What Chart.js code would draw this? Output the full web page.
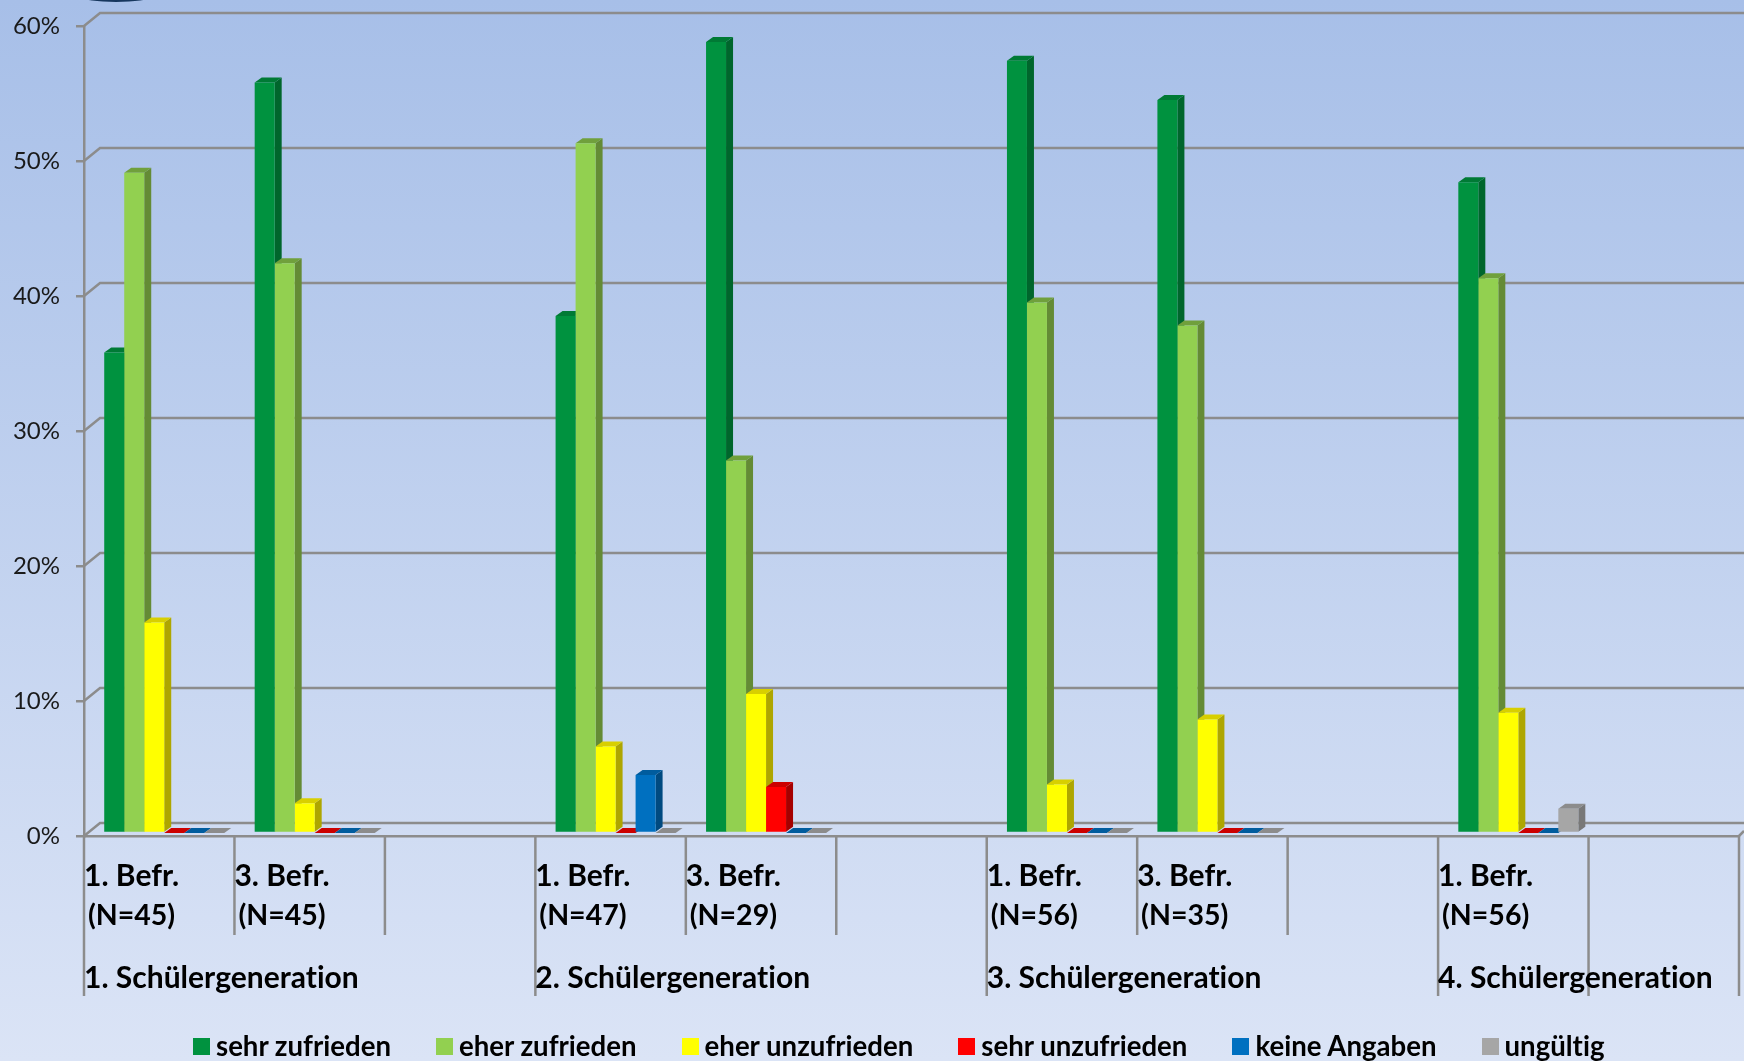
<!DOCTYPE html>
<html lang="de">
<head>
<meta charset="utf-8">
<title>Zufriedenheit</title>
<script src="https://cdn.jsdelivr.net/npm/chart.js@4"></script>
<style>
  html, body { margin: 0; padding: 0; }
  body {
    width: 1744px; height: 1061px; position: relative; overflow: hidden;
    background: linear-gradient(180deg, #a7bfe8 0%, #dbe4f6 100%);
    font-family: Lato, sans-serif;
  }
  #myChart { position: absolute; left: 0; top: 0; }
  #logo {
    position: absolute; left: 82px; top: -8px; width: 68px; height: 10px;
    background: #17375e; border-radius: 50%;
  }
  #legend {
    position: absolute; left: 193px; top: 1029px; display: flex;
    font-weight: 700; font-size: 27.6px; line-height: 34px; color: #000;
    font-variant-ligatures: none;
  }
  #legend div { display: flex; align-items: center; margin-right: 45px; white-space: nowrap; }
  #legend span { display: block; width: 17px; height: 17px; margin-right: 6px; }
</style>
</head>
<body>
<div id="logo"></div>
<canvas id="myChart" width="1744" height="1061"></canvas>
<div id="legend"></div>
<script>
const befragungen = [
  ["1. Befr.", "(N=45)"], ["3. Befr.", "(N=45)"], "",
  ["1. Befr.", "(N=47)"], ["3. Befr.", "(N=29)"], "",
  ["1. Befr.", "(N=56)"], ["3. Befr.", "(N=35)"], "",
  ["1. Befr.", "(N=56)"], ""
];
const generationen = ["1. Schülergeneration", "2. Schülergeneration", "3. Schülergeneration", "4. Schülergeneration"];
const generationStart = [0, 3, 6, 9];
const yTicks = [0, 10, 20, 30, 40, 50, 60];

const sehrZufrieden = [35.6, 55.6, null, 38.3, 58.6, null, 57.2, 54.3, null, 48.2, null];
const eherZufrieden = [48.9, 42.2, null, 51.1, 27.6, null, 39.3, 37.6, null, 41.1, null];
const eherUnzufrieden = [15.6, 2.2, null, 6.4, 10.3, null, 3.6, 8.4, null, 8.9, null];
const sehrUnzufrieden = [0, 0, null, 0, 3.4, null, 0, 0, null, 0, null];
const keineAngaben = [0, 0, null, 4.3, 0, null, 0, 0, null, 0, null];
const ungueltig = [0, 0, null, 0, 0, null, 0, 0, null, 1.8, null];

const LINE = '#8c8c8c';
const LABEL_FONT = '700 30px Lato, sans-serif';
const N_FONT = '700 28.5px Lato, sans-serif';

function serie(label, data, front, side, top) {
  return { label, data, backgroundColor: front, sideColor: side, topColor: top, borderWidth: 0 };
}

// Rückwand, Boden und die Linien unter der Achse
const wall = {
  id: 'wall',
  beforeDatasetsDraw(chart) {
    const { ctx, scales: { x, y }, chartArea: a, width } = chart;
    ctx.save();
    ctx.strokeStyle = LINE;
    ctx.lineWidth = 2.5;
    yTicks.forEach(v => {
      const py = y.getPixelForValue(v);
      ctx.beginPath();
      ctx.moveTo(a.left, py);
      ctx.lineTo(a.left + 16, py - 13);
      ctx.lineTo(width, py - 13);
      ctx.stroke();
    });
    ctx.beginPath();
    ctx.moveTo(a.right, a.bottom);
    ctx.lineTo(width, a.bottom - 5);
    ctx.stroke();

    const step = x.getPixelForValue(1) - x.getPixelForValue(0);
    for (let i = 0; i <= befragungen.length; i++) {
      const px = x.getPixelForValue(0) - step / 2 + i * step;
      const lang = generationStart.includes(i) || i >= 10;
      ctx.beginPath();
      ctx.moveTo(px, a.bottom);
      ctx.lineTo(px, lang ? a.bottom + 160 : a.bottom + 99);
      ctx.stroke();
    }

    // Säulen stehen etwas hinter der vorderen Achse
    ctx.restore();
    ctx.save();
    ctx.translate(5, -3);
    const dx = 7, dy = 5;
    befragungen.forEach((_, i) => {
      chart.data.datasets.forEach((ds, d) => {
        if (ds.data[i] === null) return;
        const bar = chart.getDatasetMeta(d).data[i];
        const l = bar.x - bar.width / 2, r = bar.x + bar.width / 2;
        ctx.fillStyle = ds.sideColor;
        ctx.beginPath();
        ctx.moveTo(r, bar.base);
        ctx.lineTo(r + dx, bar.base - dy);
        ctx.lineTo(r + dx, bar.y - dy);
        ctx.lineTo(r, bar.y);
        ctx.fill();
        ctx.fillStyle = ds.topColor;
        ctx.beginPath();
        ctx.moveTo(l, bar.y);
        ctx.lineTo(l + dx, bar.y - dy);
        ctx.lineTo(r + dx, bar.y - dy);
        ctx.lineTo(r, bar.y);
        ctx.fill();
      });
    });
  },
  afterDatasetsDraw(chart) {
    chart.ctx.restore();
  },
  afterDraw(chart) {
    const { ctx, scales: { x } } = chart;
    const step = x.getPixelForValue(1) - x.getPixelForValue(0);
    const linksVon = i => x.getPixelForValue(i) - step / 2;
    ctx.save();
    ctx.letterSpacing = '0.01px'; // keine ti-Ligatur
    ctx.fillStyle = '#000';
    befragungen.forEach((lab, i) => {
      if (!lab) return;
      ctx.font = LABEL_FONT;
      const mitte = linksVon(i) + ctx.measureText(lab[0]).width / 2;
      ctx.textAlign = 'center';
      ctx.fillText(lab[0], mitte, 886);
      ctx.font = N_FONT;
      ctx.fillText(lab[1], mitte, 925);
    });
    ctx.font = LABEL_FONT;
    ctx.textAlign = 'left';
    generationen.forEach((g, n) => ctx.fillText(g, linksVon(generationStart[n]), 988));
    ctx.restore();
  }
};

const chart = new Chart(document.getElementById('myChart').getContext('2d'), {
  type: 'bar',
  data: {
    labels: befragungen,
    datasets: [
      serie('sehr zufrieden', sehrZufrieden, '#00923f', '#00662c', '#007a35'),
      serie('eher zufrieden', eherZufrieden, '#92d050', '#648b35', '#70a03c'),
      serie('eher unzufrieden', eherUnzufrieden, '#ffff00', '#aea600', '#d8cf00'),
      serie('sehr unzufrieden', sehrUnzufrieden, '#ff0000', '#a60000', '#cc0000'),
      serie('keine Angaben', keineAngaben, '#0070c0', '#004a80', '#005c9e'),
      serie('ungültig', ungueltig, '#a6a6a6', '#787878', '#8c8c8c')
    ]
  },
  options: {
    responsive: false,
    animation: false,
    devicePixelRatio: 1,
    layout: { padding: { top: 26, right: 5, bottom: 225, left: 0 } },
    categoryPercentage: 0.7976,
    barPercentage: 1,
    plugins: { legend: { display: false }, tooltip: { enabled: false } },
    scales: {
      x: {
        ticks: { display: false },
        grid: { display: false },
        border: { display: true, color: LINE, width: 2.5 },
        afterFit: s => { s.height = 0; }
      },
      y: {
        min: 0,
        max: 60,
        ticks: {
          stepSize: 10,
          padding: 16,
          color: '#1a1a1a',
          font: { family: 'Lato, sans-serif', size: 24 },
          callback: v => v + '%'
        },
        grid: { drawOnChartArea: false, color: LINE, lineWidth: 2.5, tickLength: 8 },
        border: { display: true, color: LINE, width: 2.5 },
        afterFit: s => { s.width = 84; s.paddingTop = 0; s.paddingBottom = 0; }
      }
    }
  },
  plugins: [wall]
});

const legendBox = document.getElementById('legend');
chart.data.datasets.forEach(ds => {
  const item = document.createElement('div');
  const box = document.createElement('span');
  box.style.background = ds.backgroundColor;
  item.appendChild(box);
  item.appendChild(document.createTextNode(ds.label));
  legendBox.appendChild(item);
});
</script>
</body>
</html>
